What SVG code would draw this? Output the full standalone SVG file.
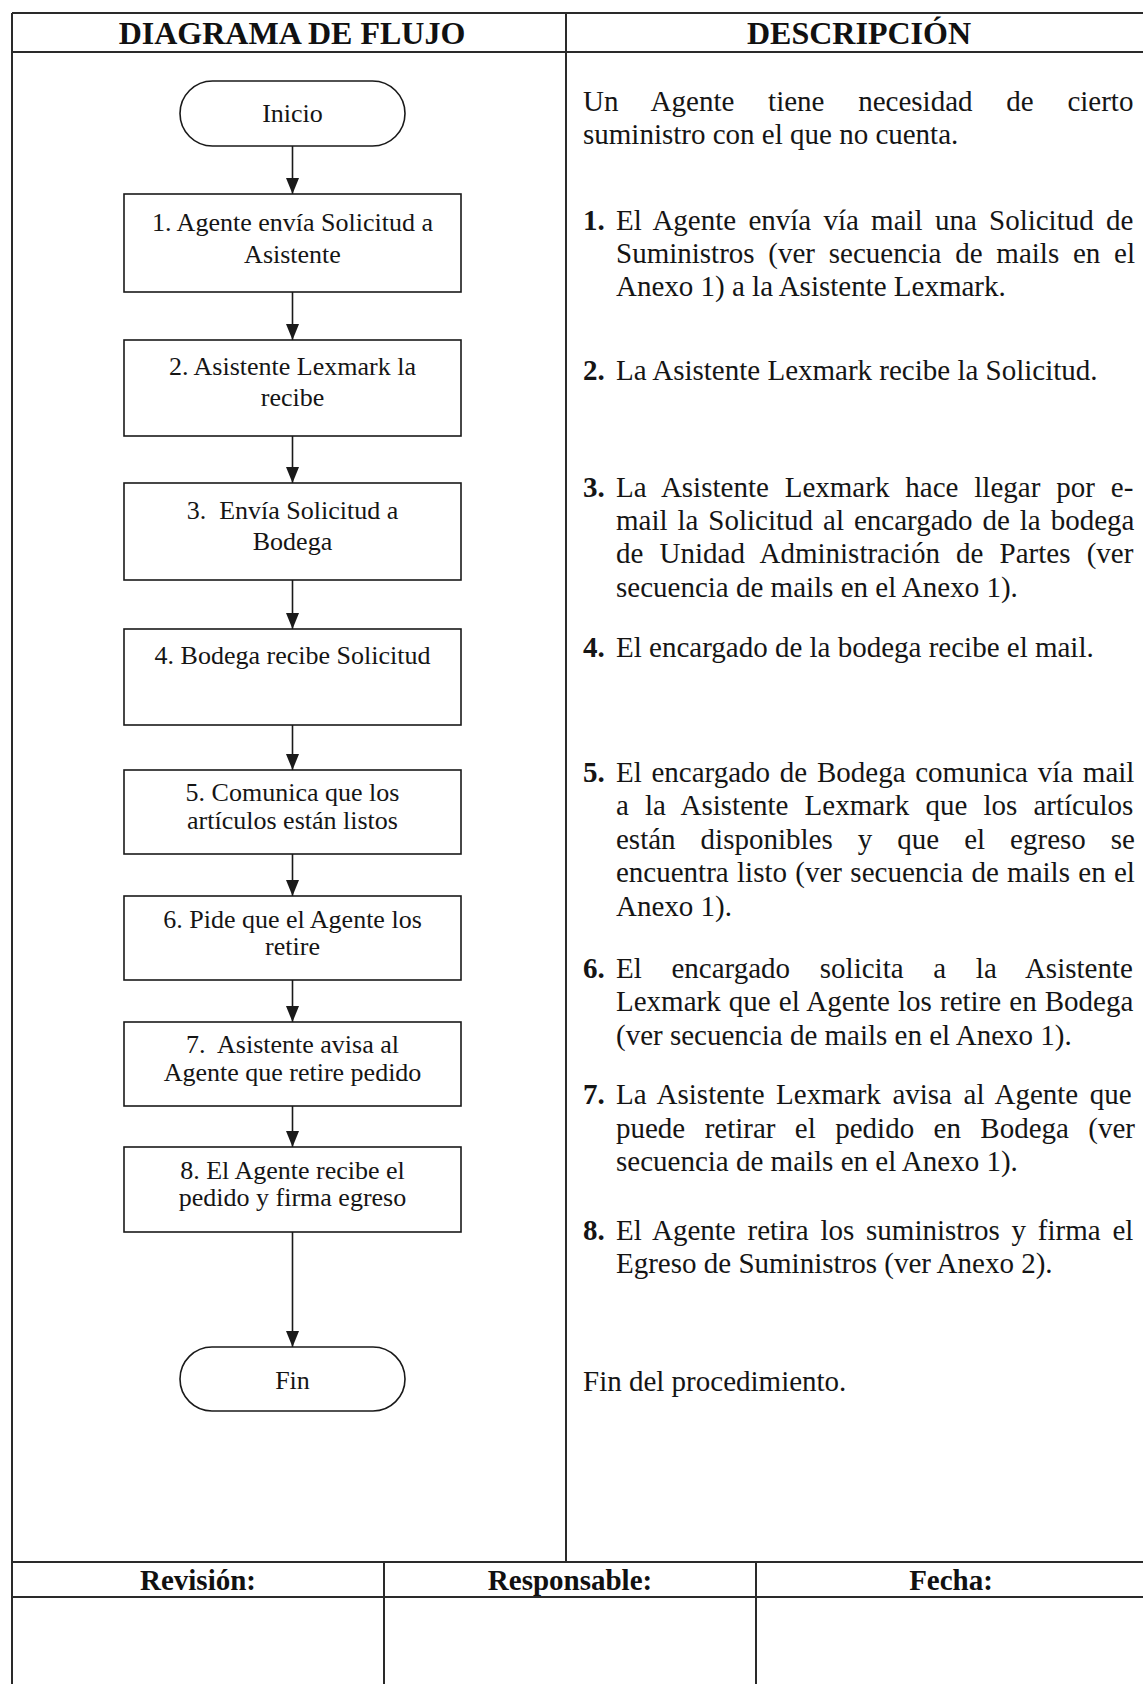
<svg xmlns="http://www.w3.org/2000/svg" width="1143" height="1684" viewBox="0 0 1143 1684">
<style>
.frame{stroke:#2a2a2a;stroke-width:2;fill:none}
.node{fill:#fff;stroke:#1a1a1a;stroke-width:1.6}
.conn{stroke:#1a1a1a;stroke-width:1.6;fill:none}
.bt{font-family:"Liberation Serif","Times New Roman",serif;font-size:26px;fill:#151515;text-anchor:middle}
.hd{font-family:"Liberation Serif","Times New Roman",serif;font-size:32px;font-weight:bold;fill:#111;text-anchor:middle}
.ft{font-family:"Liberation Serif","Times New Roman",serif;font-size:29px;font-weight:bold;fill:#111;text-anchor:middle}
.ds{font-family:"Liberation Serif","Times New Roman",serif;font-size:29px;fill:#151515}
.num{font-weight:bold}
</style>
<defs>
<marker id="arr" markerUnits="userSpaceOnUse" markerWidth="16" markerHeight="13" viewBox="0 0 16 13" refX="16" refY="6.5" orient="auto">
<path d="M0,0 L16,6.5 L0,13 z" fill="#1a1a1a"/>
</marker>
</defs>
<rect x="0" y="0" width="1143" height="1684" fill="#fff"/>

<g id="table">
<line class="frame" x1="12" y1="13" x2="1143" y2="13"/>
<line class="frame" x1="12" y1="52" x2="1143" y2="52"/>
<line class="frame" x1="12" y1="13" x2="12" y2="1684"/>
<line class="frame" x1="566" y1="13" x2="566" y2="1562"/>
<line class="frame" x1="12" y1="1562" x2="1143" y2="1562"/>
<line class="frame" x1="12" y1="1597" x2="1143" y2="1597"/>
<line class="frame" x1="384" y1="1562" x2="384" y2="1684"/>
<line class="frame" x1="756" y1="1562" x2="756" y2="1684"/>
<text class="hd" x="292" y="44">DIAGRAMA DE FLUJO</text>
<text class="hd" x="859" y="44">DESCRIPCIÓN</text>
<text class="ft" x="198" y="1590">Revisión:</text>
<text class="ft" x="570" y="1590">Responsable:</text>
<text class="ft" x="951" y="1590">Fecha:</text>
</g>

<g id="connectors">
<line class="conn" x1="292.5" y1="146" x2="292.5" y2="194" marker-end="url(#arr)"/>
<line class="conn" x1="292.5" y1="292" x2="292.5" y2="340" marker-end="url(#arr)"/>
<line class="conn" x1="292.5" y1="436" x2="292.5" y2="483" marker-end="url(#arr)"/>
<line class="conn" x1="292.5" y1="580" x2="292.5" y2="629" marker-end="url(#arr)"/>
<line class="conn" x1="292.5" y1="725" x2="292.5" y2="770" marker-end="url(#arr)"/>
<line class="conn" x1="292.5" y1="854" x2="292.5" y2="896" marker-end="url(#arr)"/>
<line class="conn" x1="292.5" y1="980" x2="292.5" y2="1022" marker-end="url(#arr)"/>
<line class="conn" x1="292.5" y1="1106" x2="292.5" y2="1147" marker-end="url(#arr)"/>
<line class="conn" x1="292.5" y1="1232" x2="292.5" y2="1347" marker-end="url(#arr)"/>
</g>

<g id="inicio">
<rect class="node" x="180" y="81" width="225" height="65" rx="32.5"/>
<text class="bt" x="292.5" y="122">Inicio</text>
</g>
<g id="paso1">
<rect class="node" x="124" y="194" width="337" height="98"/>
<text class="bt" x="292.5" y="231">1. Agente envía Solicitud a</text>
<text class="bt" x="292.5" y="263">Asistente</text>
</g>
<g id="paso2">
<rect class="node" x="124" y="340" width="337" height="96"/>
<text class="bt" x="292.5" y="375">2. Asistente Lexmark la</text>
<text class="bt" x="292.5" y="406">recibe</text>
</g>
<g id="paso3">
<rect class="node" x="124" y="483" width="337" height="97"/>
<text class="bt" x="292.5" y="519">3.&#160; Envía Solicitud a</text>
<text class="bt" x="292.5" y="550">Bodega</text>
</g>
<g id="paso4">
<rect class="node" x="124" y="629" width="337" height="96"/>
<text class="bt" x="292.5" y="664">4. Bodega recibe Solicitud</text>
</g>
<g id="paso5">
<rect class="node" x="124" y="770" width="337" height="84"/>
<text class="bt" x="292.5" y="801">5. Comunica que los</text>
<text class="bt" x="292.5" y="829">artículos están listos</text>
</g>
<g id="paso6">
<rect class="node" x="124" y="896" width="337" height="84"/>
<text class="bt" x="292.5" y="928">6. Pide que el Agente los</text>
<text class="bt" x="292.5" y="955">retire</text>
</g>
<g id="paso7">
<rect class="node" x="124" y="1022" width="337" height="84"/>
<text class="bt" x="292.5" y="1053">7.&#160; Asistente avisa al</text>
<text class="bt" x="292.5" y="1081">Agente que retire pedido</text>
</g>
<g id="paso8">
<rect class="node" x="124" y="1147" width="337" height="85"/>
<text class="bt" x="292.5" y="1179">8. El Agente recibe el</text>
<text class="bt" x="292.5" y="1206">pedido y firma egreso</text>
</g>
<g id="fin">
<rect class="node" x="180" y="1347" width="225" height="64" rx="32"/>
<text class="bt" x="292.5" y="1389">Fin</text>
</g>

<g id="descripcion">
<text class="ds" x="583" y="111" style="word-spacing:26.5px">Un Agente tiene necesidad de cierto</text>
<text class="ds" x="583" y="144">suministro con el que no cuenta.</text>

<text class="ds num" x="583" y="230">1.</text>
<text class="ds" x="616" y="230" style="word-spacing:4.99px">El Agente envía vía mail una Solicitud de</text>
<text class="ds" x="616" y="263" style="word-spacing:6.5px">Suministros (ver secuencia de mails en el</text>
<text class="ds" x="616" y="296">Anexo 1) a la Asistente Lexmark.</text>

<text class="ds num" x="583" y="380">2.</text>
<text class="ds" x="616" y="380">La Asistente Lexmark recibe la Solicitud.</text>

<text class="ds num" x="583" y="497">3.</text>
<text class="ds" x="616" y="497" style="word-spacing:8.65px">La Asistente Lexmark hace llegar por e-</text>
<text class="ds" x="616" y="530" style="word-spacing:2.69px">mail la Solicitud al encargado de la bodega</text>
<text class="ds" x="616" y="563" style="word-spacing:8.92px">de Unidad Administración de Partes (ver</text>
<text class="ds" x="616" y="597">secuencia de mails en el Anexo 1).</text>

<text class="ds num" x="583" y="657">4.</text>
<text class="ds" x="616" y="657">El encargado de la bodega recibe el mail.</text>

<text class="ds num" x="583" y="782">5.</text>
<text class="ds" x="616" y="782" style="word-spacing:2.47px">El encargado de Bodega comunica vía mail</text>
<text class="ds" x="616" y="815" style="word-spacing:8.9px">a la Asistente Lexmark que los artículos</text>
<text class="ds" x="616" y="849" style="word-spacing:17.77px">están disponibles y que el egreso se</text>
<text class="ds" x="616" y="882" style="word-spacing:1.09px">encuentra listo (ver secuencia de mails en el</text>
<text class="ds" x="616" y="916">Anexo 1).</text>

<text class="ds num" x="583" y="978">6.</text>
<text class="ds" x="616" y="978" style="word-spacing:22.46px">El encargado solicita a la Asistente</text>
<text class="ds" x="616" y="1011" style="word-spacing:0.86px">Lexmark que el Agente los retire en Bodega</text>
<text class="ds" x="616" y="1045">(ver secuencia de mails en el Anexo 1).</text>

<text class="ds num" x="583" y="1104">7.</text>
<text class="ds" x="616" y="1104" style="word-spacing:4.35px">La Asistente Lexmark avisa al Agente que</text>
<text class="ds" x="616" y="1138" style="word-spacing:12.15px">puede retirar el pedido en Bodega (ver</text>
<text class="ds" x="616" y="1171">secuencia de mails en el Anexo 1).</text>

<text class="ds num" x="583" y="1240">8.</text>
<text class="ds" x="616" y="1240" style="word-spacing:4.53px">El Agente retira los suministros y firma el</text>
<text class="ds" x="616" y="1273">Egreso de Suministros (ver Anexo 2).</text>

<text class="ds" x="583" y="1391">Fin del procedimiento.</text>
</g>
</svg>
